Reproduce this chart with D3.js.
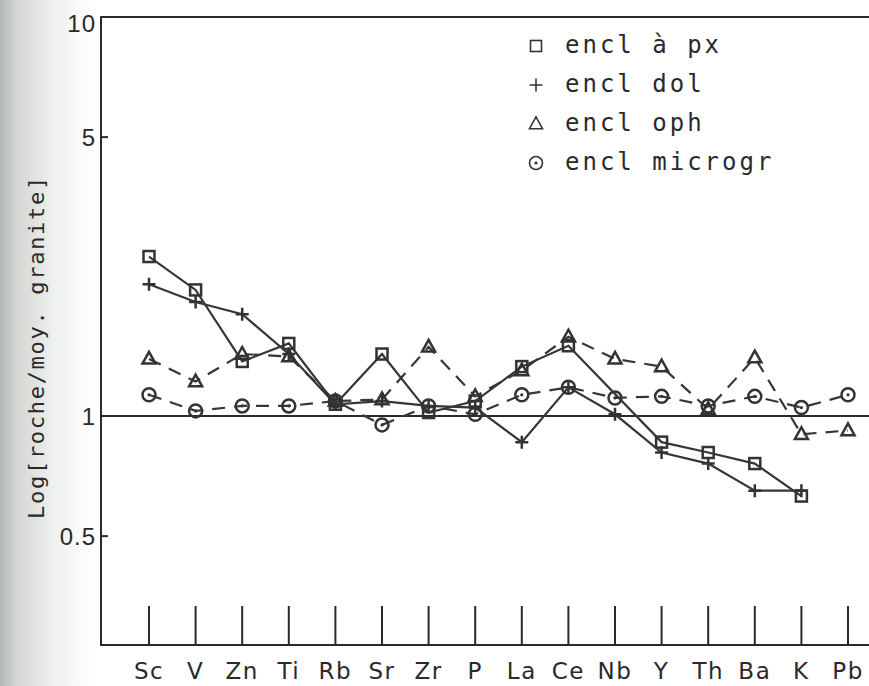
<!DOCTYPE html>
<html>
	<head>
		<meta charset="utf-8" />
		<script src="https://cdn.jsdelivr.net/npm/d3@7"></script>
		<style type="text/css">

html, body {
  margin: 0;
  padding: 0;
  background: #ffffff;
}

#chart {
  width: 869px;
  height: 686px;
}

.frame, .ytick, .xtick, .unit {
  stroke: #2a2a2a;
  stroke-width: 2px;
  fill: none;
}

.serie {
  stroke: #363636;
  stroke-width: 2.2px;
  fill: none;
}

.dashed {
  stroke-dasharray: 13, 9;
}

.mark {
  stroke: #333333;
  stroke-width: 2.5px;
  fill: none;
}

.legend .mark {
  stroke-width: 1.6px;
}

text {
  fill: #2a2a2a;
}
		</style>
	</head>

	<body>
		<div id="chart"></div>
		<script type="text/javascript">

// elements (ordre du diagramme)
var elements = ['Sc', 'V', 'Zn', 'Ti', 'Rb', 'Sr', 'Zr', 'P', 'La', 'Ce', 'Nb', 'Y', 'Th', 'Ba', 'K', 'Pb'];

// rapports roche / moyenne granite
var encl_px      = [2.51, 2.07, 1.37, 1.52, 1.07, 1.43, 1.02, 1.09, 1.33, 1.50, null, 0.86, 0.81, 0.76, 0.63, null];
var encl_dol     = [2.14, 1.93, 1.80, 1.43, 1.07, 1.09, 1.06, 1.05, 0.86, 1.18, 1.01, 0.81, 0.76, 0.65, 0.65, null];
var encl_oph     = [1.39, 1.22, 1.43, 1.41, 1.09, 1.10, 1.49, 1.12, 1.30, 1.58, 1.39, 1.33, 1.04, 1.40, 0.90, 0.92];
var encl_microgr = [1.13, 1.03, 1.06, 1.06, 1.09, 0.95, 1.06, 1.01, 1.13, 1.18, 1.11, 1.12, 1.06, 1.12, 1.05, 1.13];

var yTickValues = [10, 5, 1, 0.5];
var yTickLabels = ['10', '5', '1', '0.5'];

var legendLabels = ['encl à px', 'encl dol', 'encl oph', 'encl microgr'];

var series = [
	{ values: encl_px, symbol: 'square', dashed: false },
	{ values: encl_dol, symbol: 'plus', dashed: false },
	{ values: encl_oph, symbol: 'triangle', dashed: true },
	{ values: encl_microgr, symbol: 'circle', dashed: true }
];

var width = 869,
	height = 686;

// (window.top est reserve, d'ou plotTop)
var plotLeft = 101,
	plotTop = 17,
	plotBottom = 645;

var svg = d3.select('#chart').append('svg')
	.attr('width', width)
	.attr('height', height);

// bord gris de la page scannee
var grad = svg.append('defs').append('linearGradient')
	.attr('id', 'edge')
	.attr('x1', 0).attr('x2', 1).attr('y1', 0).attr('y2', 0);
grad.append('stop').attr('offset', '0%').attr('stop-color', '#b4b8b4');
grad.append('stop').attr('offset', '18%').attr('stop-color', '#d3d6d2');
grad.append('stop').attr('offset', '55%').attr('stop-color', '#eef0ed');
grad.append('stop').attr('offset', '100%').attr('stop-color', '#ffffff');
svg.append('rect')
	.attr('x', 0).attr('y', 0)
	.attr('width', 95).attr('height', height)
	.attr('fill', 'url(#edge)');

var x = d3.scalePoint()
	.domain(elements)
	.range([149, 848]);

var y = d3.scaleLog()
	.domain([1, 10])
	.range([416, plotTop]);

// cadre : axe gauche, haut, bas
svg.append('path')
	.attr('class', 'frame')
	.attr('d', 'M' + width + ',' + plotTop + 'H' + plotLeft + 'V' + plotBottom + 'H' + width);

// ligne de reference a 1
svg.append('line')
	.attr('class', 'unit')
	.attr('x1', plotLeft).attr('x2', width)
	.attr('y1', y(1)).attr('y2', y(1));

// graduations de l'axe y
var yt = svg.append('g').selectAll('g').data(yTickValues).enter().append('g')
	.attr('transform', function(d) { return 'translate(0,' + y(d) + ')'; });
yt.append('line')
	.attr('class', 'ytick')
	.attr('x1', plotLeft).attr('x2', plotLeft + 7);
yt.append('text')
	.attr('x', 96)
	.attr('dy', function(d) { return d == 10 ? '0.62em' : '0.36em'; })
	.attr('text-anchor', 'end')
	.style('font-family', 'Liberation Sans, Arial, sans-serif')
	.style('font-size', '24px')
	.style('letter-spacing', '1px')
	.text(function(d, i) { return yTickLabels[i]; });

svg.append('text')
	.attr('transform', 'translate(44,347) rotate(-90)')
	.attr('text-anchor', 'middle')
	.style('font-family', 'DejaVu Sans Mono, monospace')
	.style('font-size', '22px')
	.style('letter-spacing', '1.7px')
	.text('Log[roche/moy. granite]');

// graduations de l'axe x
var xt = svg.append('g').selectAll('g').data(elements).enter().append('g')
	.attr('transform', function(d) { return 'translate(' + x(d) + ',0)'; });
xt.append('line')
	.attr('class', 'xtick')
	.attr('y1', 606).attr('y2', plotBottom);
xt.append('text')
	.attr('y', 679)
	.attr('text-anchor', 'middle')
	.style('font-family', 'DejaVu Sans, sans-serif')
	.style('font-size', '23px')
	.style('letter-spacing', '1.5px')
	.text(function(d) { return d; });

function drawSymbol(g, symbol, s) {
	if (symbol == 'square') {
		g.append('rect').attr('class', 'mark')
			.attr('x', -s / 2).attr('y', -s / 2).attr('width', s).attr('height', s);
	} else if (symbol == 'plus') {
		g.append('path').attr('class', 'mark')
			.attr('d', 'M' + (-s / 2) + ',0H' + (s / 2) + 'M0,' + (-s / 2) + 'V' + (s / 2));
	} else if (symbol == 'triangle') {
		var h = s * 0.9;
		g.append('path').attr('class', 'mark')
			.attr('d', 'M0,' + (-h * 0.6) + 'L' + (s / 2) + ',' + (h * 0.4) + 'L' + (-s / 2) + ',' + (h * 0.4) + 'Z');
	} else {
		g.append('circle').attr('class', 'mark').attr('r', s / 2);
		g.append('circle').attr('r', 1.6).attr('fill', '#333333');
	}
}

var line = d3.line()
	.x(function(d) { return x(d.el); })
	.y(function(d) { return y(d.v); });

series.forEach(function(s) {
	var pts = elements.map(function(el, i) { return { el: el, v: s.values[i] }; })
		.filter(function(d) { return d.v != null; });

	svg.append('path')
		.datum(pts)
		.attr('class', 'serie' + (s.dashed ? ' dashed' : ''))
		.attr('d', line);

	svg.append('g').selectAll('g').data(pts).enter().append('g')
		.attr('transform', function(d) { return 'translate(' + x(d.el) + ',' + y(d.v) + ')'; })
		.each(function() { drawSymbol(d3.select(this), s.symbol, s.symbol == 'square' ? 11 : 13); });
});

// legende
var legend = svg.append('g').attr('class', 'legend');
var lg = legend.selectAll('g').data(series).enter().append('g')
	.attr('transform', function(d, i) { return 'translate(536,' + (53 + i * 39) + ')'; });
lg.each(function(d) {
	var g = d3.select(this).append('g').attr('transform', 'translate(0,-7)');
	drawSymbol(g, d.symbol, d.symbol == 'square' ? 11 : 13);
});
lg.append('text')
	.attr('x', 29)
	.style('font-family', 'DejaVu Sans Mono, monospace')
	.style('font-size', '24px')
	.style('letter-spacing', '3px')
	.text(function(d, i) { return legendLabels[i]; });

    </script>
  </body>
</html>
